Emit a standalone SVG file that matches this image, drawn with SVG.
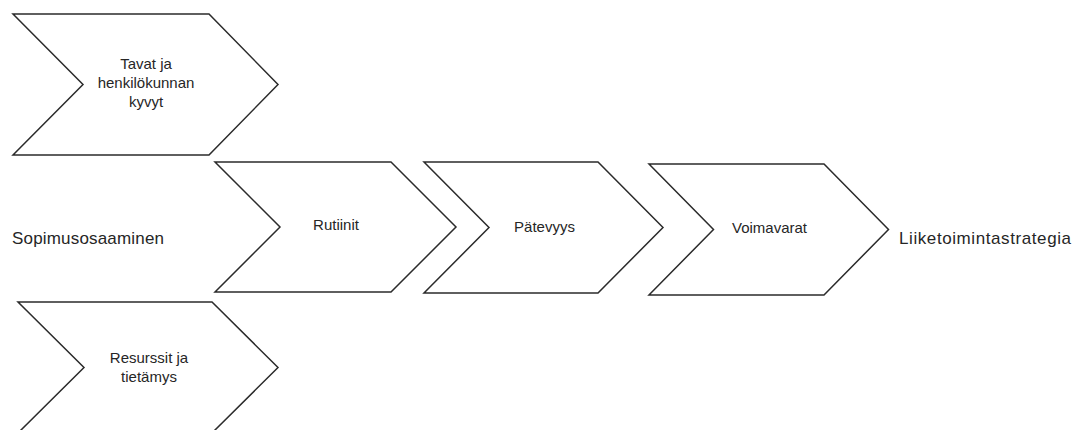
<svg xmlns="http://www.w3.org/2000/svg" width="1075" height="430" viewBox="0 0 1075 430">
  <style>
    .chev { fill: #ffffff; stroke: #2b2b2b; stroke-width: 1.5; stroke-linejoin: miter; }
    .lbl { font-family: "Liberation Sans", Arial, sans-serif; font-size: 15px; fill: #262626; text-anchor: middle; }
    .side { font-family: "Liberation Sans", Arial, sans-serif; font-size: 17px; fill: #262626; }
  </style>
  <rect width="1075" height="430" fill="#ffffff"/>

  <!-- chevron steps -->
  <g id="tavat">
    <polygon class="chev" points="13,14 209,14 278,84.5 209,155 13,155 83,84.5"/>
    <text class="lbl" x="146" y="69">Tavat ja</text>
    <text class="lbl" x="146" y="88">henkilökunnan</text>
    <text class="lbl" x="146" y="107">kyvyt</text>
  </g>

  <g id="rutiinit">
    <polygon class="chev" points="215,162 391,162 456,227 391,292 215,292 280,227"/>
    <text class="lbl" x="336" y="230">Rutiinit</text>
  </g>

  <g id="patevyys">
    <polygon class="chev" points="424,162 598,162 663,227.5 598,293 424,293 489,227.5"/>
    <text class="lbl" x="544.5" y="232">Pätevyys</text>
  </g>

  <g id="voimavarat">
    <polygon class="chev" points="649,164 824,164 888.5,229.5 824,295 649,295 713.5,229.5"/>
    <text class="lbl" x="769.5" y="233">Voimavarat</text>
  </g>

  <g id="resurssit">
    <polygon class="chev" points="18,302 212,302 278,367.5 212,433 18,433 84,367.5"/>
    <text class="lbl" x="149" y="363">Resurssit ja</text>
    <text class="lbl" x="149" y="382">tietämys</text>
  </g>

  <!-- start and end labels -->
  <g id="sopimusosaaminen">
    <text class="side" x="12" y="243.5" textLength="152">Sopimusosaaminen</text>
  </g>
  <g id="liiketoimintastrategia">
    <text class="side" x="899" y="243.5" textLength="172">Liiketoimintastrategia</text>
  </g>

  <g id="connectors"/>
</svg>
